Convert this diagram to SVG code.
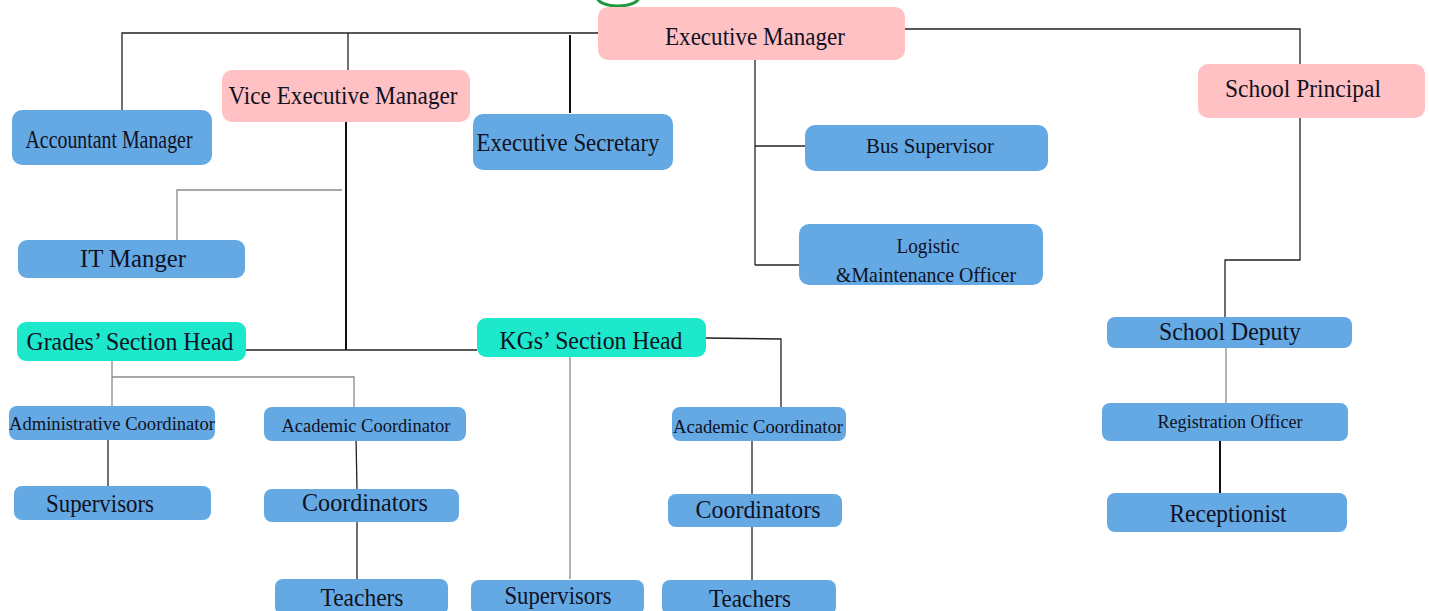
<svg xmlns="http://www.w3.org/2000/svg" width="1429" height="611" viewBox="0 0 1429 611">
<style>
.pink{fill:#FFC1C3}
.blue{fill:#64A9E3}
.teal{fill:#1DE8CC}
text{font-family:"Liberation Serif","DejaVu Serif",serif;fill:#111122;text-anchor:middle}
.l{font-size:25px}
.m{font-size:21px}
.s{font-size:18px}
.k{stroke:#222;stroke-width:1.3;fill:none}
.kb{stroke:#111;stroke-width:2;fill:none}
.g{stroke:#8a8a8a;stroke-width:1.3;fill:none}
</style>
<rect width="1429" height="611" fill="#ffffff"/>
<path d="M597 -3 A21 9 0 0 0 639 -3" fill="none" stroke="#1c9a3c" stroke-width="3"/>
<g id="connectors">
<polyline class="k" points="598,33 122,33 122,112"/>
<line class="k" x1="348" y1="33" x2="348" y2="70"/>
<line class="kb" x1="570" y1="35" x2="570" y2="113"/>
<polyline class="k" points="905,29 1300,29 1300,64"/>
<line class="k" x1="755" y1="60" x2="755" y2="265"/>
<line class="k" x1="755" y1="146" x2="806" y2="146"/>
<line class="k" x1="755" y1="265" x2="800" y2="265"/>
<polyline class="k" points="1300,118 1300,260 1225,260 1225,318"/>
<line class="g" x1="1226" y1="348" x2="1226" y2="404"/>
<line class="kb" x1="1220" y1="441" x2="1220" y2="493"/>
<line class="kb" x1="346" y1="122" x2="346" y2="350"/>
<polyline class="g" points="342,190 177,190 177,240"/>
<line class="k" x1="246" y1="350" x2="477" y2="350"/>
<polyline class="k" points="706,338 781,339 781,408"/>
<line class="g" x1="570" y1="357" x2="570" y2="579"/>
<line class="g" x1="112" y1="361" x2="112" y2="407"/>
<polyline class="g" points="112,377 354,377 354,408"/>
<line class="k" x1="108" y1="440" x2="108" y2="487"/>
<line class="k" x1="356" y1="437" x2="357" y2="490"/>
<line class="k" x1="357" y1="522" x2="357" y2="580"/>
<line class="k" x1="752" y1="441" x2="752" y2="494"/>
<line class="k" x1="752" y1="527" x2="752" y2="580"/>
</g>
<g id="executive-manager"><rect class="pink" x="598" y="7" width="307" height="53" rx="10"/><text class="l" x="755" y="45" textLength="180" lengthAdjust="spacingAndGlyphs">Executive Manager</text></g>
<g id="vice-executive-manager"><rect class="pink" x="222" y="70" width="248" height="52" rx="10"/><text class="l" x="343" y="104" textLength="229" lengthAdjust="spacingAndGlyphs">Vice Executive Manager</text></g>
<g id="accountant-manager"><rect class="blue" x="12" y="110" width="200" height="55" rx="10"/><text class="l" x="109" y="148" textLength="167" lengthAdjust="spacingAndGlyphs">Accountant Manager</text></g>
<g id="executive-secretary"><rect class="blue" x="473" y="114" width="200" height="56" rx="10"/><text class="l" x="568" y="151" textLength="183" lengthAdjust="spacingAndGlyphs">Executive Secretary</text></g>
<g id="school-principal"><rect class="pink" x="1198" y="64" width="227" height="54" rx="10"/><text class="l" x="1303" y="97" textLength="156" lengthAdjust="spacingAndGlyphs">School Principal</text></g>
<g id="bus-supervisor"><rect class="blue" x="805" y="125" width="243" height="46" rx="10"/><text class="m" x="930" y="153" textLength="128" lengthAdjust="spacingAndGlyphs">Bus Supervisor</text></g>
<g id="logistic-officer"><rect class="blue" x="799" y="224" width="244" height="61" rx="10"/><text class="m" x="928" y="253" textLength="63" lengthAdjust="spacingAndGlyphs">Logistic</text><text class="m" x="926" y="282" textLength="180" lengthAdjust="spacingAndGlyphs">&amp;Maintenance Officer</text></g>
<g id="it-manager"><rect class="blue" x="18" y="240" width="227" height="38" rx="9"/><text class="l" x="133" y="267" textLength="106" lengthAdjust="spacingAndGlyphs">IT Manger</text></g>
<g id="grades-section-head"><rect class="teal" x="17" y="322" width="229" height="39" rx="9"/><text class="l" x="130" y="350" textLength="207" lengthAdjust="spacingAndGlyphs">Grades’ Section Head</text></g>
<g id="kgs-section-head"><rect class="teal" x="477" y="318" width="229" height="39" rx="9"/><text class="l" x="591" y="349" textLength="183" lengthAdjust="spacingAndGlyphs">KGs’ Section Head</text></g>
<g id="administrative-coordinator"><rect class="blue" x="9" y="406" width="206" height="34" rx="8"/><text class="s" x="112" y="430" textLength="206" lengthAdjust="spacingAndGlyphs">Administrative Coordinator</text></g>
<g id="supervisors-grades"><rect class="blue" x="14" y="486" width="197" height="34" rx="8"/><text class="l" x="100" y="512" textLength="108" lengthAdjust="spacingAndGlyphs">Supervisors</text></g>
<g id="academic-coordinator-grades"><rect class="blue" x="264" y="407" width="202" height="34" rx="8"/><text class="s" x="366" y="432" textLength="169" lengthAdjust="spacingAndGlyphs">Academic Coordinator</text></g>
<g id="coordinators-grades"><rect class="blue" x="264" y="489" width="195" height="33" rx="8"/><text class="l" x="365" y="511" textLength="126" lengthAdjust="spacingAndGlyphs">Coordinators</text></g>
<g id="teachers-grades"><rect class="blue" x="275" y="579" width="173" height="36" rx="8"/><text class="l" x="362" y="606" textLength="83" lengthAdjust="spacingAndGlyphs">Teachers</text></g>
<g id="supervisors-kgs"><rect class="blue" x="471" y="580" width="173" height="35" rx="8"/><text class="l" x="558" y="604" textLength="107" lengthAdjust="spacingAndGlyphs">Supervisors</text></g>
<g id="academic-coordinator-kgs"><rect class="blue" x="672" y="407" width="174" height="34" rx="8"/><text class="s" x="758" y="433" textLength="170" lengthAdjust="spacingAndGlyphs">Academic Coordinator</text></g>
<g id="coordinators-kgs"><rect class="blue" x="668" y="494" width="174" height="33" rx="8"/><text class="l" x="758" y="518" textLength="125" lengthAdjust="spacingAndGlyphs">Coordinators</text></g>
<g id="teachers-kgs"><rect class="blue" x="662" y="580" width="174" height="35" rx="8"/><text class="l" x="750" y="607" textLength="82" lengthAdjust="spacingAndGlyphs">Teachers</text></g>
<g id="school-deputy"><rect class="blue" x="1107" y="317" width="245" height="31" rx="8"/><text class="l" x="1230" y="340" textLength="142" lengthAdjust="spacingAndGlyphs">School Deputy</text></g>
<g id="registration-officer"><rect class="blue" x="1102" y="403" width="246" height="38" rx="8"/><text class="s" x="1230" y="428" textLength="145" lengthAdjust="spacingAndGlyphs">Registration Officer</text></g>
<g id="receptionist"><rect class="blue" x="1107" y="493" width="240" height="39" rx="8"/><text class="l" x="1228" y="522" textLength="117" lengthAdjust="spacingAndGlyphs">Receptionist</text></g>
</svg>
